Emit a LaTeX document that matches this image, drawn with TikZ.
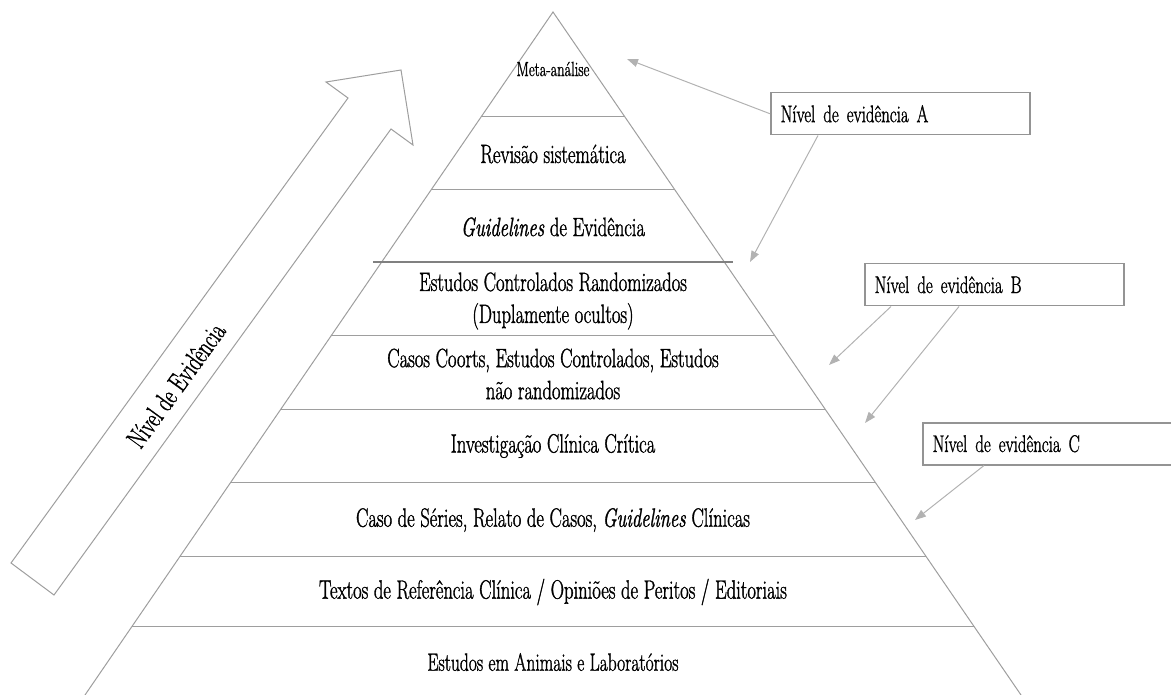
\documentclass[tikz,border=0pt]{standalone}
\usepackage{fontspec}
\setmainfont{Latin Modern Roman}[FakeStretch=0.7, FakeBold=1.2]
\usetikzlibrary{arrows.meta}

\begin{document}
\begin{tikzpicture}[x=1pt,y=-1pt]
\tikzstyle{tier}=[draw=black!38, line width=1pt]
\tikzstyle{lvl}=[font=\fontsize{26.5}{32}\selectfont, align=center, inner sep=0pt]
\tikzstyle{tag}=[draw=black!42, line width=1.5pt, anchor=north west,
                        minimum height=42pt, text width=239pt, inner xsep=10pt,
                        font=\fontsize{24}{26}\selectfont, align=left]
\tikzstyle{ptr}=[draw=black!30, line width=1pt, -{Triangle[length=11pt,width=8pt]}]
\useasboundingbox (0,0) rectangle (1171,695);
\clip (0,0) rectangle (1171,695);

	\coordinate (top) at (553,12);
\draw[tier] (85,695) -- (top) -- (1021,695);
\foreach \y in {117,190,336,409,482,556,626}
	\draw[tier] ({553-0.686*(\y-12)},\y) -- ({553+0.686*(\y-12)},\y);
\draw[tier, draw=black!50, line width=2pt] (373,262) -- (733,262);

	\node[lvl, font=\fontsize{20.5}{22}\selectfont] (meta) at (553,69){Meta-análise};
	\node[lvl] (rev) at (553,154){Revisão sistemática};
	\node[lvl] (guide) at (553,227){\textit{Guidelines} de Evidência};
	\node[lvl] (ecr) at (553,301){Estudos Controlados Randomizados\\(Duplamente ocultos)};
	\node[lvl] (coort) at (553,374){Casos Coorts, Estudos Controlados, Estudos\\não randomizados};
	\node[lvl] (inv) at (553,446){Investigação Clínica Crítica};
	\node[lvl] (series) at (553,520){Caso de Séries, Relato de Casos, \textit{Guidelines} Clínicas};
	\node[lvl] (textos) at (553,592){Textos de Referência Clínica / Opiniões de Peritos / Editoriais};
	\node[lvl, font=\fontsize{25}{30}\selectfont] (animais) at (553,662){Estudos em Animais e Laboratórios};

\draw[tier] (11,563) -- (348,98) -- (326,82) -- (401,70) -- (413,145) -- (391,129) -- (54,595) -- cycle;
	\node[lvl, font=\fontsize{28}{30}\selectfont, rotate=54] (axis) at (176,385){Nível de Evidência};

	\node[tag] (tagA) at (770,92){Nível de evidência A};
	\node[tag] (tagB) at (864,263){Nível de evidência B};
	\node[tag] (tagC) at (922,422){Nível de evidência C};

	\coordinate (hitA1) at (627,59);
	\coordinate (hitA2) at (750,262);
	\coordinate (hitB1) at (829,365);
	\coordinate (hitB2) at (865,423);
	\coordinate (hitC) at (915,520);
\draw[ptr] (tagA.west) -- (hitA1);
\draw[ptr] ([xshift=48pt]tagA.south west) -- (hitA2);
\draw[ptr] ([xshift=27pt]tagB.south west) -- (hitB1);
\draw[ptr] ([xshift=95pt]tagB.south west) -- (hitB2);
\draw[ptr] ([xshift=62pt]tagC.south west) -- (hitC);
\end{tikzpicture}
\end{document}
